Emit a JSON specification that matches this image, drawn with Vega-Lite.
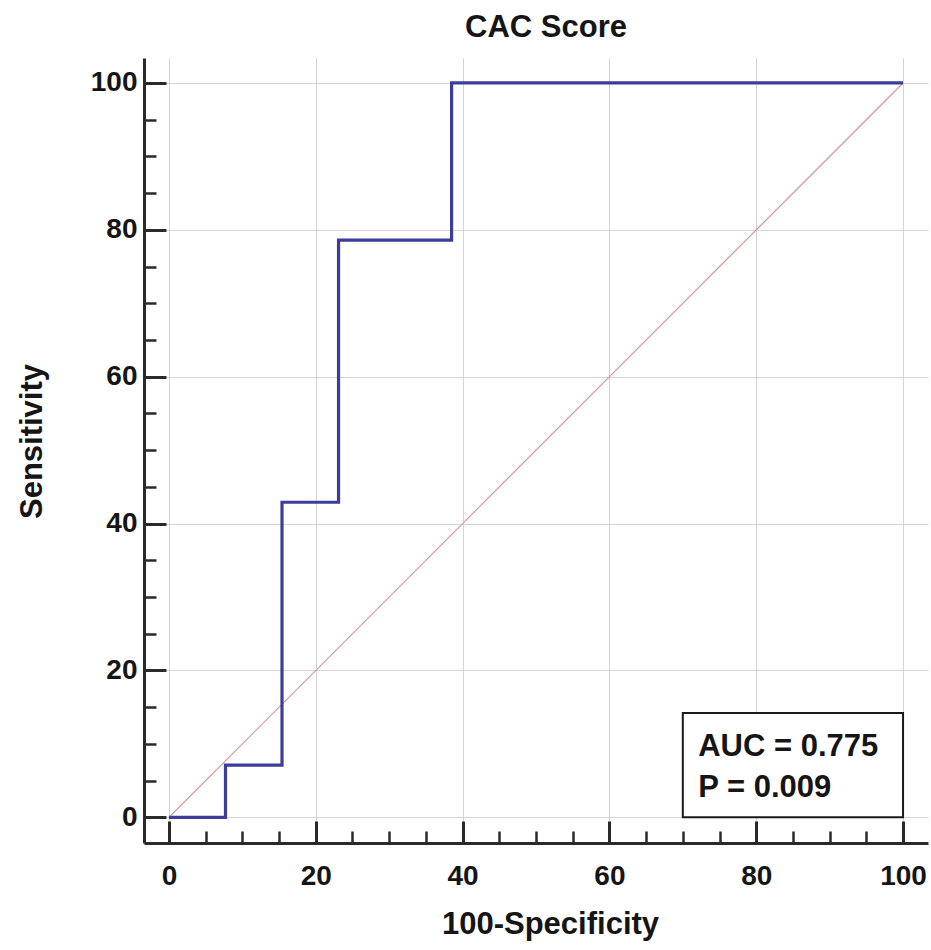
{
  "$schema": "https://vega.github.io/schema/vega-lite/v6.json",
  "width": 784,
  "height": 785,
  "autosize": {"type": "none"},
  "padding": {"left": 144, "top": 58, "right": 3, "bottom": 107},
  "background": "white",
  "title": {
    "text": "CAC Score",
    "font": "Liberation Sans",
    "fontSize": 31,
    "fontWeight": "bold",
    "color": "#151515",
    "offset": 14,
    "dx": 10
  },
  "config": {
    "view": {"stroke": null},
    "axis": {
      "values": [0, 5, 10, 15, 20, 25, 30, 35, 40, 45, 50, 55, 60, 65, 70, 75, 80, 85, 90, 95, 100],
      "grid": true,
      "gridColor": "#d4d4d4",
      "gridWidth": 1,
      "gridOpacity": {"condition": {"test": "datum.value % 20 === 0", "value": 1}, "value": 0},
      "tickSize": {"condition": {"test": "datum.value % 20 === 0", "value": -22}, "value": -12},
      "tickWidth": {"condition": {"test": "datum.value % 20 === 0", "value": 3}, "value": 2.5},
      "tickColor": "#2a2a2a",
      "domainColor": "#2a2a2a",
      "domainWidth": 3,
      "labelExpr": "datum.value % 20 === 0 ? datum.label : ''",
      "labelOverlap": false,
      "labelFlush": false,
      "labelFont": "Liberation Sans",
      "labelFontSize": 28,
      "labelFontWeight": "bold",
      "labelColor": "#151515",
      "titleFont": "Liberation Sans",
      "titleFontSize": 31,
      "titleFontWeight": "bold",
      "titleColor": "#151515"
    }
  },
  "datasets": {
    "roc": [
      {"i": 0, "fpr": 0, "sens": 0},
      {"i": 1, "fpr": 7.7, "sens": 0},
      {"i": 2, "fpr": 7.7, "sens": 7.1},
      {"i": 3, "fpr": 15.4, "sens": 7.1},
      {"i": 4, "fpr": 15.4, "sens": 42.9},
      {"i": 5, "fpr": 23.1, "sens": 42.9},
      {"i": 6, "fpr": 23.1, "sens": 78.6},
      {"i": 7, "fpr": 38.5, "sens": 78.6},
      {"i": 8, "fpr": 38.5, "sens": 100},
      {"i": 9, "fpr": 100, "sens": 100}
    ],
    "diag": [
      {"fpr": 0, "sens": 0},
      {"fpr": 100, "sens": 100}
    ],
    "box": [
      {"x1": 70, "x2": 100, "y1": 0, "y2": 14.2}
    ],
    "notes": [
      {"x": 72.1, "y": 9.6, "label": "AUC = 0.775"},
      {"x": 72.1, "y": 4.0, "label": "P = 0.009"}
    ]
  },
  "layer": [
    {
      "data": {"name": "diag"},
      "mark": {"type": "line", "color": "#d29a9a", "strokeWidth": 1.2},
      "encoding": {
        "x": {
          "field": "fpr",
          "type": "quantitative",
          "scale": {"domain": [-3.4, 103.4], "nice": false, "zero": false},
          "axis": {
            "title": "100-Specificity",
            "labelPadding": 41,
            "titleX": 406,
            "titleY": 90,
            "titleBaseline": "alphabetic",
            "titleAnchor": null
          }
        },
        "y": {
          "field": "sens",
          "type": "quantitative",
          "scale": {"domain": [-3.5, 103.4], "nice": false, "zero": false},
          "axis": {
            "title": "Sensitivity",
            "labelPadding": 29,
            "titleX": -112,
            "titleY": 383,
            "titleAngle": -90,
            "titleBaseline": "middle",
            "titleAlign": "center"
          }
        }
      }
    },
    {
      "data": {"name": "roc"},
      "mark": {"type": "line", "color": "#3c3c9c", "strokeWidth": 3.2, "interpolate": "linear"},
      "encoding": {
        "x": {"field": "fpr", "type": "quantitative"},
        "y": {"field": "sens", "type": "quantitative"},
        "order": {"field": "i", "type": "quantitative"}
      }
    },
    {
      "data": {"name": "box"},
      "mark": {"type": "rect", "fill": "white", "stroke": "#1a1a1a", "strokeWidth": 2},
      "encoding": {
        "x": {"field": "x1", "type": "quantitative"},
        "x2": {"field": "x2"},
        "y": {"field": "y1", "type": "quantitative"},
        "y2": {"field": "y2"}
      }
    },
    {
      "data": {"name": "notes"},
      "mark": {
        "type": "text",
        "align": "left",
        "baseline": "middle",
        "font": "Liberation Sans",
        "fontSize": 31,
        "fontWeight": "bold",
        "color": "#151515"
      },
      "encoding": {
        "x": {"field": "x", "type": "quantitative"},
        "y": {"field": "y", "type": "quantitative"},
        "text": {"field": "label"}
      }
    }
  ]
}
